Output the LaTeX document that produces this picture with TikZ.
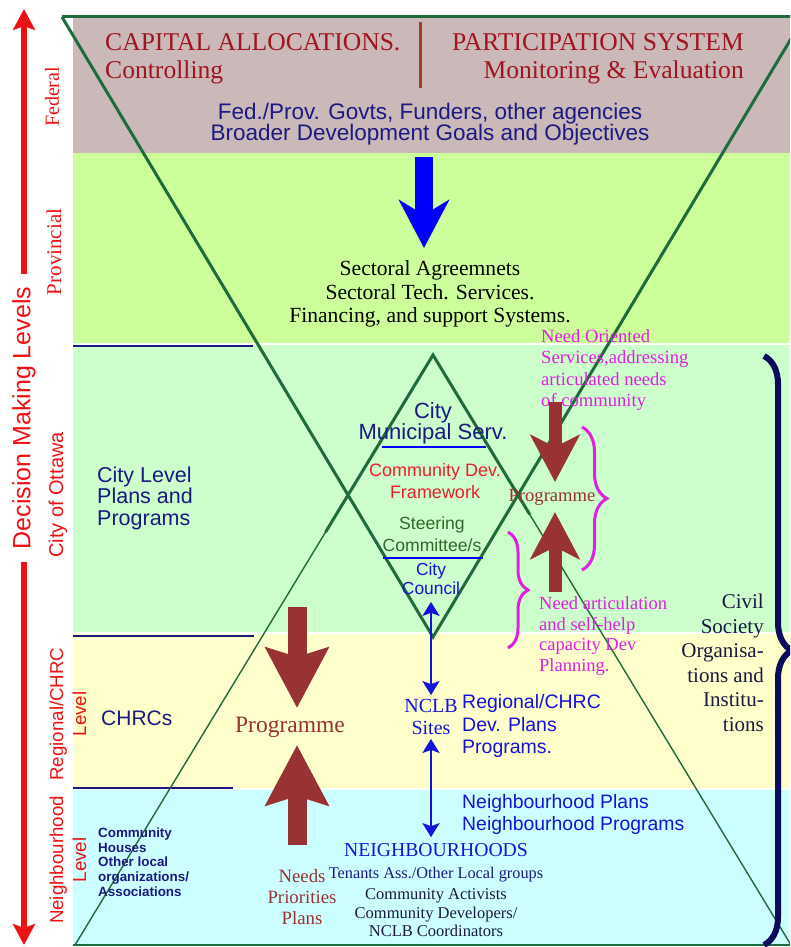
\documentclass[tikz,border=0pt]{standalone}
\usepackage{fontspec}
\setmainfont{Liberation Serif}
\setsansfont{Liberation Sans}
\usetikzlibrary{arrows.meta,decorations.pathreplacing,calc}

\definecolor{taupe}{HTML}{CBB9B9}
\definecolor{lime}{HTML}{CCFF99}
\definecolor{mint}{HTML}{CCFFCC}
\definecolor{cream}{HTML}{FFFFCC}
\definecolor{aqua}{HTML}{CCFFFF}
\definecolor{vgreen}{HTML}{1E6B3C}
\definecolor{navytxt}{HTML}{1A1A80}
\definecolor{bluetxt}{HTML}{1414D8}
\definecolor{lvlred}{HTML}{EE1111}
\definecolor{capred}{HTML}{A0141E}
\definecolor{barbrown}{HTML}{A0401A}
\definecolor{pgmbrown}{HTML}{993333}
\definecolor{mag}{HTML}{E020E0}
\definecolor{devred}{HTML}{E8202A}
\definecolor{steer}{HTML}{2E6B2E}
\definecolor{inky}{HTML}{1A1A40}
\definecolor{bracenavy}{HTML}{0C0C5C}

\newcommand{\fsz}[2]{\fontsize{#1pt}{#2pt}\selectfont}

\tikzset{
  txt/.style={inner sep=0pt, align=center},
  lvl/.style={txt, rotate=90, text=lvlred},
  captxt/.style={txt, text=capred, font=\fsz{25.6}{27}},
  vline/.style={vgreen, line width=3pt},
  lamline/.style={vgreen, line width=1.4pt},
  sepline/.style={navytxt, line width=1.5pt},
  bluefat/.style={blue, line width=18pt, -{Stealth[length=48pt,width=50pt,inset=15pt]}},
  brownbig/.style={pgmbrown, line width=19pt, -{Stealth[length=60pt,width=62pt,inset=9pt]}},
  brownsmall/.style={pgmbrown, line width=13pt, -{Stealth[length=47pt,width=49pt,inset=12pt]}},
  decarrow/.style={lvlred, line width=6pt, -{Stealth[length=21pt,width=22pt,inset=4pt]}},
  bluedbl/.style={bluetxt, line width=2.5pt, {Stealth[length=14pt,width=17pt,inset=3pt]}-{Stealth[length=14pt,width=17pt,inset=3pt]}},
  magbrace/.style={mag, line width=3pt, decorate},
  pgmtxt/.style={txt, text=pgmbrown}
}

\begin{document}
\begin{tikzpicture}[x=1pt,y=-1pt]
    \useasboundingbox (0,0) rectangle (790,947);
    \clip (0,0) rectangle (790,947);

    % level bands
    \fill[taupe] (73,17) rectangle (790,153);
    \fill[lime] (73,153) rectangle (790,344);
    \fill[mint] (73,344) rectangle (790,633);
    \fill[cream] (73,633) rectangle (790,789);
    \fill[aqua] (73,789) rectangle (790,945);
    \foreach \yy in {344,633,789}
      \draw[white, line width=2pt] (73,\yy) -- (790,\yy);
    \draw[sepline] (73,346) -- (253,346);
    \draw[sepline] (73,636) -- (254,636);
    \draw[sepline] (73,788) -- (233,788);

    % the two triangles
    \coordinate (vtl) at (62,17);
    \coordinate (vtr) at (804,17);
    \coordinate (vbot) at (433,637);
    \coordinate (lapex) at (433,355);
    \coordinate (lbl) at (75,945);
    \coordinate (lbr) at (791,945);
    \draw[lamline] (lbl) -- (lapex) -- (lbr);
    \draw[vline] ($(lapex)!0.3!(lbl)$) -- (lapex) -- ($(lapex)!0.27!(lbr)$);
    \draw[vline] (vtl) -- (vtr);
    \draw[vline] (vtl) -- (vbot) -- (vtr);
    \draw[vgreen, line width=2pt] (73,945) -- (790,945); % base

    % decision levels on the left
    \node[txt, inner sep=12pt, rotate=90, text=lvlred, font=\sffamily\fsz{25}{27}] (dml) at (24,418) {Decision Making Levels};
    \draw[decarrow] (dml.east) -- (dml.east |- 0,9);
    \draw[decarrow] (dml.west) -- (dml.west |- 0,945);
    \node[lvl, font=\fsz{20}{22}] (federal) at (52,97) {Federal};
    \node[lvl, font=\fsz{21}{23}] (provincial) at (54,252) {Provincial};
    \node[lvl, font=\sffamily\fsz{20}{22}] (ottawa) at (58,495) {City of Ottawa};
    \node[lvl, font=\sffamily\fsz{18.7}{23}] (regional) at (68,714) {Regional/CHRC\\Level};
    \node[lvl, font=\sffamily\fsz{18.7}{23}] (neighlvl) at (68,860) {Neighbourhood\\Level};

    % federal band
    \node[captxt, anchor=base west] (capital) at (105,51) {CAPITAL ALLOCATIONS.};
    \node[captxt, anchor=base west] (controlling) at (105,79) {Controlling};
    \node[captxt, anchor=base east] (particip) at (744,51) {PARTICIPATION SYSTEM};
    \node[captxt, anchor=base east] (monitor) at (744,79) {Monitoring \& Evaluation};
    \draw[barbrown, line width=3pt] (420,22) -- (420,88);
    \node[txt, text=navytxt, font=\sffamily\fsz{22.5}{21.5}] (fedprov) at (430,124) {Fed./Prov. Govts, Funders, other agencies\\Broader Development Goals and Objectives};

    % provincial band
    \node[txt, font=\fsz{21.6}{23.5}] (sectoral) at (430,294) {Sectoral Agreemnets\\Sectoral Tech. Services.\\Financing, and support Systems.};
    \draw[bluefat] (424,157) -- (424,248);

    % city band
    \node[txt, anchor=west, align=left, text=navytxt, font=\sffamily\fsz{21.5}{21.5}] (citylevel) at (97,498) {City Level\\Plans and\\Programs};
    \node[txt, text=navytxt, font=\sffamily\fsz{22}{21}] (cityms) at (433,423) {City\\Municipal Serv.};
    \draw[blue, line width=1.5pt] (382,447) -- (486,447);
    \node[txt, text=devred, font=\sffamily\fsz{18}{22}] (cdf) at (435,481) {Community Dev.\\Framework};
    \node[txt, text=steer, font=\sffamily\fsz{17.6}{22}] (steering) at (432,534) {Steering\\Committee/s};
    \draw[blue, line width=1.5pt] (383,558) -- (483,558);
    \node[txt, text=bluetxt, font=\sffamily\fsz{17.4}{18.5}] (council) at (431,579) {City\\Council};
    \node[txt, anchor=west, align=left, text=mag, font=\fsz{18.6}{21.3}] (needor) at (541,370) {Need Oriented\\Services,addressing\\articulated needs\\of community};
    \node[pgmtxt, font=\fsz{18.6}{20}] (pgmR) at (552,497) {Programme};
    \draw[brownsmall] (555,402) -- (555,482);
    \draw[brownsmall] (555,592) -- (555,512);
    \draw[magbrace, decoration={brace, amplitude=25pt}] (582,427) -- (582,570);
    \draw[magbrace, decoration={brace, amplitude=20pt}] (508,532) -- (508,648);
    \node[txt, anchor=west, align=left, text=mag, font=\fsz{18.5}{20.7}] (needart) at (539,636) {Need articulation\\and self-help\\capacity Dev\\Planning.};

    % regional band
    \node[txt, anchor=west, text=navytxt, font=\sffamily\fsz{21}{22}] (chrcs) at (101,718) {CHRCs};
    \node[pgmtxt, font=\fsz{23.5}{25}] (pgmL) at (290,727) {Programme};
    \draw[brownbig] (297,607) -- (297,708);
    \draw[brownbig] (297,845) -- (297,745);
    \node[txt, text=bluetxt, font=\fsz{20}{22}] (nclb) at (431,717) {NCLB\\Sites};
    \node[txt, anchor=west, align=left, text=bluetxt, font=\sffamily\fsz{19.5}{22.5}] (regplans) at (462,726) {Regional/CHRC\\Dev. Plans\\Programs.};
    \node[txt, anchor=east, align=right, text=inky, font=\fsz{21}{24.5}] (civil) at (764,663) {Civil\\Society\\Organisa-\\tions and\\Institu-\\tions};
    \draw[bracenavy, line width=6pt, decorate, decoration={brace, amplitude=28pt}] (764,356) -- (764,945);

    % neighbourhood band
    \node[txt, anchor=west, align=left, text=navytxt, font=\sffamily\bfseries\fsz{13.4}{14.6}] (houses) at (98,862) {Community\\Houses\\Other local\\organizations/\\Associations};
    \node[pgmtxt, font=\fsz{18.8}{21}] (needs) at (302,897) {Needs\\Priorities\\Plans};
    \node[txt, anchor=west, align=left, text=bluetxt, font=\sffamily\fsz{19.4}{22}] (nplans) at (462,814) {Neighbourhood Plans\\Neighbourhood Programs};
    \node[txt, text=bluetxt, font=\fsz{19.7}{21}] (neighs) at (436,850) {NEIGHBOURHOODS};
    \node[txt, text=navytxt, font=\fsz{16.3}{18}] (tenants) at (436,875) {Tenants Ass./Other Local groups};
    \node[txt, text=inky, font=\fsz{16.5}{18.5}] (activists) at (436,913) {Community Activists\\Community Developers/\\NCLB Coordinators};

    % links between the levels
    \draw[bluedbl, shorten <=7pt, shorten >=4pt] (council.south) -- (council.south |- nclb.north);
    \draw[bluedbl, shorten <=4pt, shorten >=6pt] (nclb.south) -- (nclb.south |- neighs.north);
\end{tikzpicture}
\end{document}
